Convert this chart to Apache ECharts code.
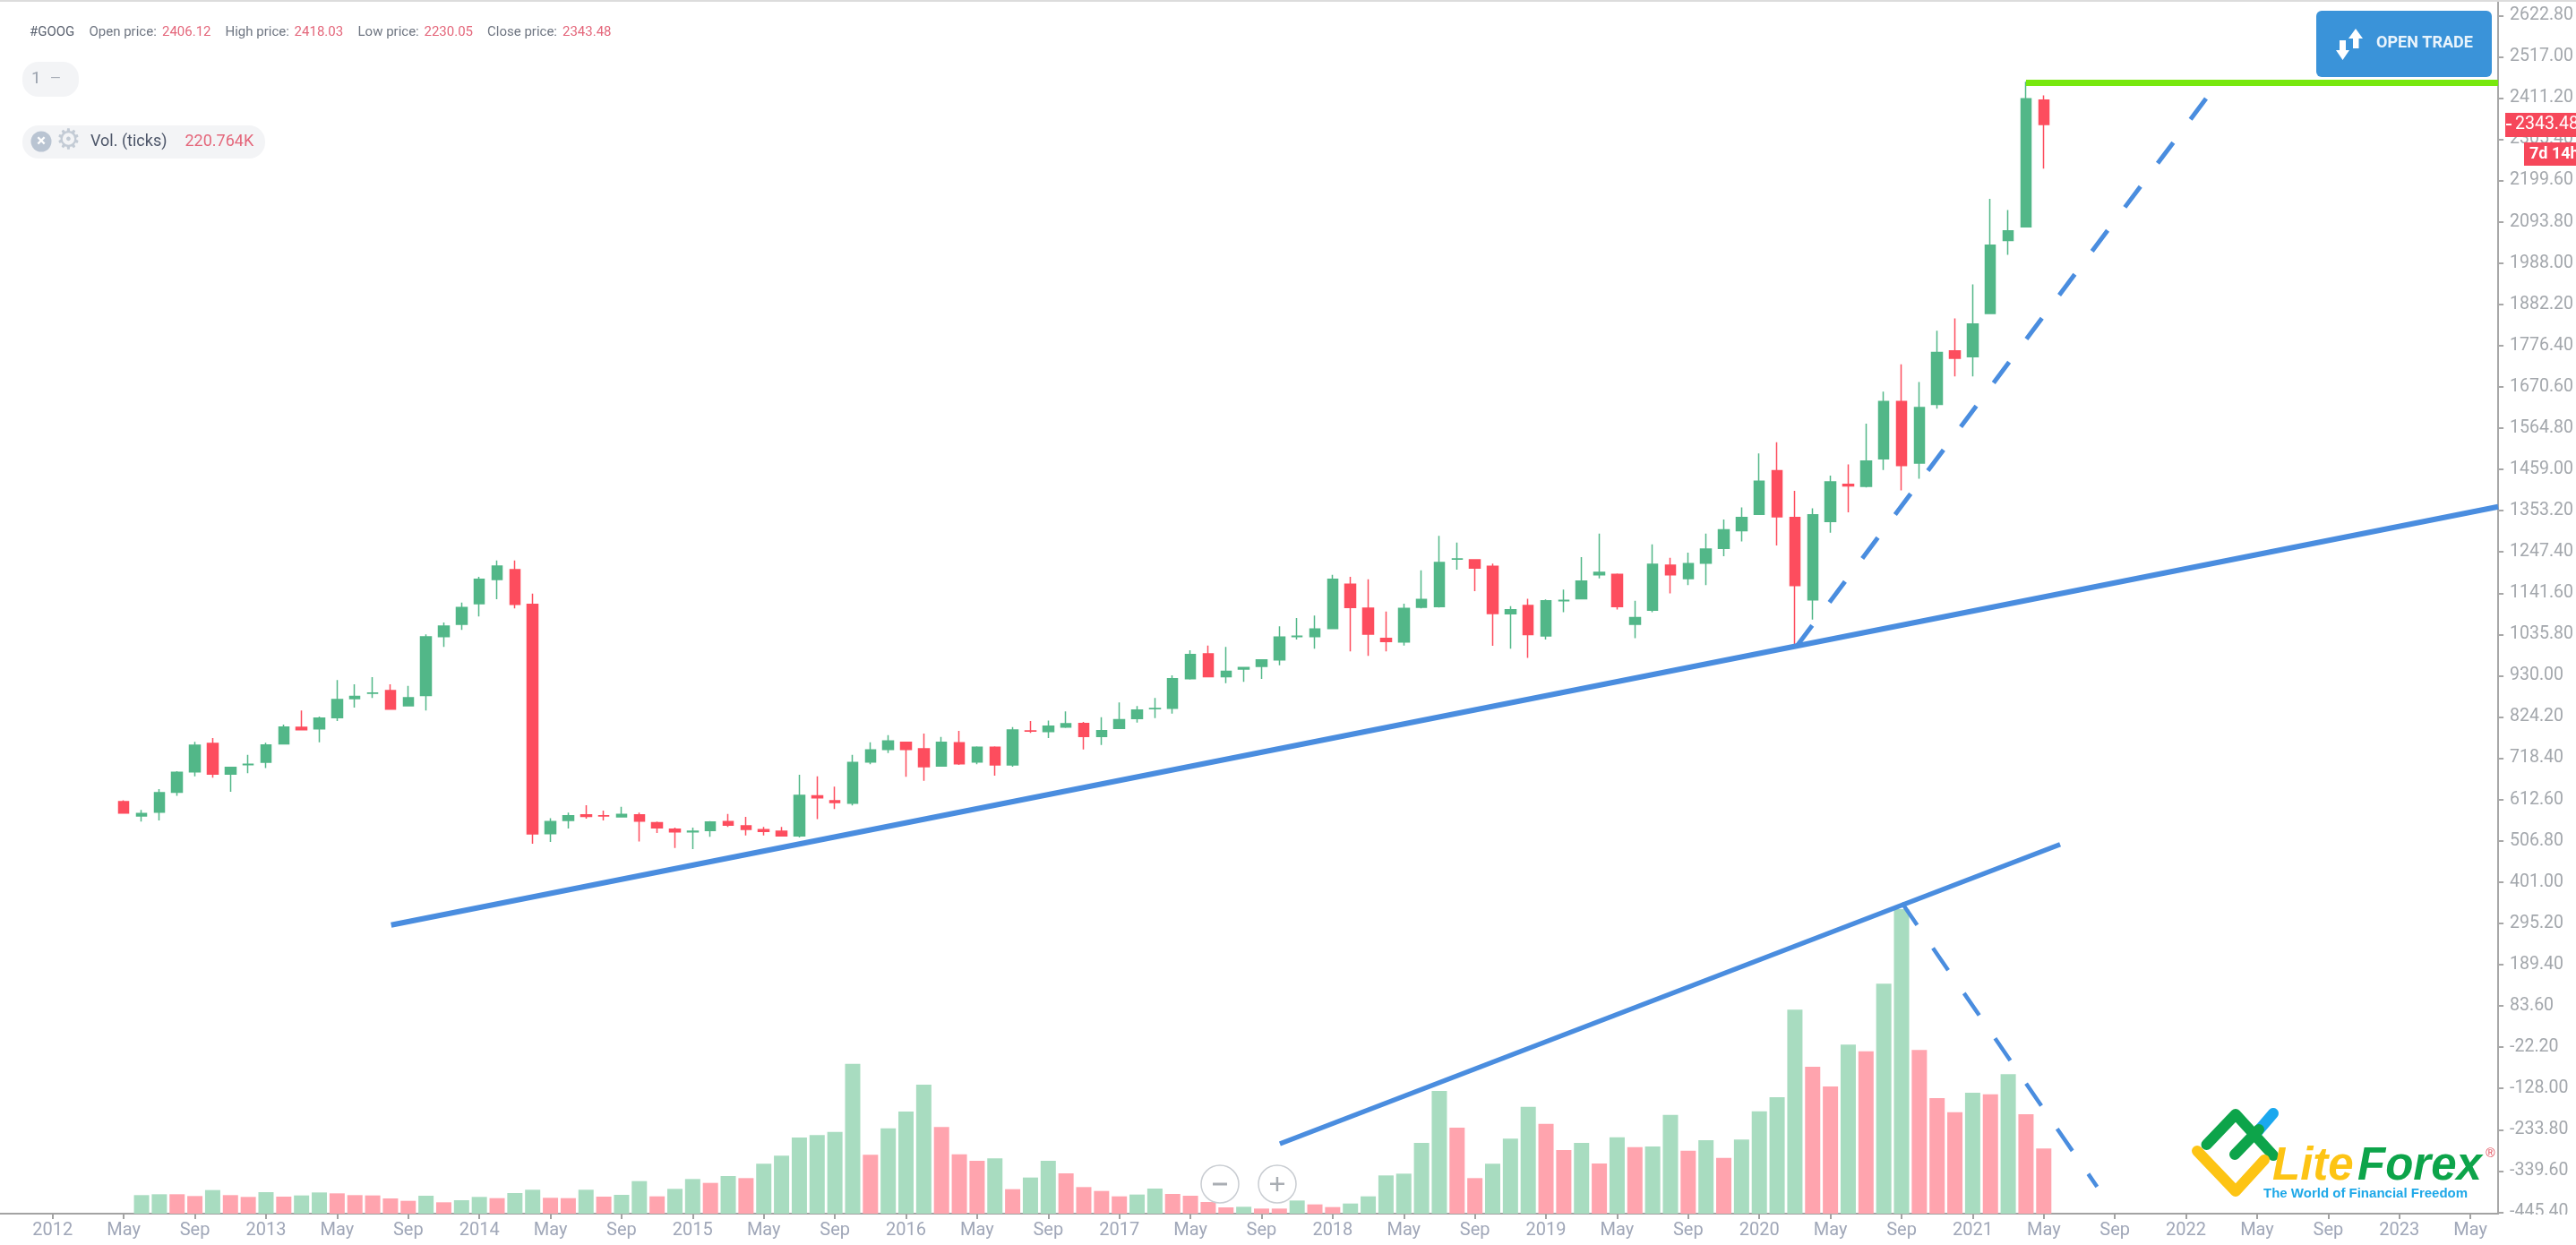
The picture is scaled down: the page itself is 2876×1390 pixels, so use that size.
<!DOCTYPE html>
<html><head><meta charset="utf-8">
<style>html,body{margin:0;padding:0;background:#fff}#c{width:2876px;height:1390px}</style>
<script src="https://cdn.jsdelivr.net/npm/echarts@6/dist/echarts.min.js"></script>
</head><body><div id="c"></div>
<script>
// Month index: 0 = May 2012
const opens = [607.3,570.5,580.4,631.7,683.8,756.5,677.7,702,708.3,755.7,797.8,794,822.3,871.3,885,892,853,879.7,1030.5,1061.9,1114.8,1176.8,1202,1113.2,525.3,559,573.6,571.3,568.2,573.6,553.6,536.8,529.9,533,556,545.2,535.3,531.4,519.2,622.5,609.5,603.4,709,741.2,759.6,742.7,698.3,758,709,746.6,701.4,788.7,787.1,798.6,807.8,774.1,794.8,820,845.3,846.8,922.6,986.2,927.9,947.1,954,970.8,1030.5,1030.5,1051.2,1164.5,1103.3,1026,1016.8,1105.6,1107.1,1228.8,1227.3,1210.4,1088.7,1110.2,1032.3,1122.5,1127.6,1189.1,1190.1,1062,1097.9,1213.7,1178.9,1218.8,1256.8,1302,1343.9,1455.7,1335.8,1124.6,1325.5,1420.8,1415.7,1486.4,1633,1475.2,1625.8,1763.2,1747.8,1858.6,2046.2,2081,2406.12];
const closes = [578.2,576.6,630.2,682.3,751.9,677.7,695.3,702.9,752.7,798.6,791.7,821.6,869,877.4,885.9,844.5,873.6,1029.8,1057.4,1104.8,1177.5,1211.2,1113.2,524.6,556,571.3,569.7,570.5,574.3,557.5,539.9,529.9,531.4,555.2,546.8,536,530.7,519.2,623.3,617.2,604.9,707.5,739.7,762.6,741.2,696.8,759.6,704.4,746.6,701.4,791,787.9,800.9,807,774.1,789.4,817.7,842.2,846,922.6,984.6,927.9,941.7,950.9,970.8,1029,1031.3,1049.7,1177.5,1104.8,1036.7,1017.5,1102.5,1125.5,1220.4,1229.6,1205.9,1089.5,1099.4,1035.4,1122.5,1123.5,1172.7,1195.3,1107.1,1079.4,1215.8,1189.1,1217.8,1254.7,1304,1335.8,1429,1337.8,1161.4,1342.9,1427,1416.7,1480.3,1633,1469,1617.7,1759.1,1743.7,1831.9,2033.9,2070.8,2409.1,2343.48];
const lows = [576.6,556,559,622.5,672.3,668.5,632.5,680,693.7,755,790.2,759.6,814,848.4,872.9,843,851.4,840.7,1003.8,1047.4,1081.8,1126.2,1102.5,499.3,503.9,538.3,563.6,559,566.7,505.4,526.8,488.6,485.5,516.9,542.2,520.7,520.7,517.6,515.4,562.8,588.1,597.3,702.9,732,670.8,660.8,696.8,701.4,702.9,673.8,696.8,783.3,770.3,796.3,741.2,752.7,794,810.1,821.6,833,920.3,926.4,911.1,914.2,921.9,957.1,1022.9,999.2,1049.7,992.3,980.8,992.3,1007.6,1102.5,1104.8,1202,1146.9,1006.8,999.2,975.9,1023.1,1092.8,1125.6,1179.9,1100,1026.1,1092.8,1141,1162.5,1162.5,1236.3,1274.2,1342.9,1263.9,1010.8,1074.3,1296.8,1349,1412.6,1457.7,1405.4,1435.2,1614.6,1697.6,1697.6,1857.5,2009.3,2079,2230.05];
const highs = [611,585.8,639.4,685.3,760.3,770.3,696.8,727.4,758,804.7,840.7,825.4,918.8,908,926.4,908,904.3,1035.9,1066.5,1117.8,1183.7,1225.8,1225.8,1140.8,565.1,578.9,598,584.3,594.2,578.9,556,540.6,540.6,557.5,575.8,568.2,542.2,542.2,676.1,672.3,645.5,727.4,759.6,777.9,759.6,781.8,773.4,788.7,748.9,748.9,798.6,813.9,815.4,838.4,811.6,823.9,861.4,852.2,872.9,931,995.3,1007.6,1003.8,952.5,972.4,1056.6,1078,1084.1,1189,1183.7,1177.5,1094.9,1114.8,1200.5,1289,1271.7,1227.3,1217.3,1108.6,1127.6,1125.6,1151.2,1234.2,1294.7,1192.2,1122.5,1267,1232.2,1245.5,1294.7,1330.6,1361.4,1499.8,1528.5,1404.4,1359.3,1443.4,1472.1,1576.6,1658.7,1728.4,1683.3,1814.5,1846.3,1933.4,2152.8,2124.1,2453.2,2418.03];
// Volume in thousands of ticks, month index 1 (Jun 2012) .. 108 (May 2021)
const volumes = [62.8,65.8,65.8,59.7,80,62.8,56.7,72.9,57.7,61.8,71.9,68.8,62.8,61.8,51.6,43.5,60.7,38.5,45.6,56.7,52.6,69.8,81,53.7,52.6,81,57.7,63.8,110.3,58.7,84,117.4,104.3,127.5,120.5,169,196.4,258.1,266.2,277.4,508.2,199.4,289.5,346.2,437.3,293.6,201.4,179.2,187.3,83,122.5,179.2,136.7,90.1,76.9,58.7,64.8,85,66.8,60.7,39.5,21.3,23.3,17.2,17.2,44.5,31.4,22.3,34.4,58.7,129.6,135.6,239.9,416.1,291.5,120.5,169,254.1,362.4,304.7,215.6,239.9,170,259.1,225.7,227.8,335.1,213.6,249,189.3,251,347.2,394.8,691.4,498,431.2,573,550.7,779.6,1032.6,554.7,391.8,344.2,410,404.9,472.7,337.1,220.764];
const volumeSides = "GGRRGRRGRGGRRRRRGRGGRGGRRGRGGRGGRGRGGGGGGRGGGRRRGRGGRRRRGGRRRRGRRGRRGGGGGGRRGGGRRGRGRGGRGRGGGGRRGRGGRRRGRGRR";
const priceTicks = [-445.4,-339.6,-233.8,-128,-22.2,83.6,189.4,295.2,401,506.8,612.6,718.4,824.2,930,1035.8,1141.6,1247.4,1353.2,1459,1564.8,1670.6,1776.4,1882.2,1988,2093.8,2199.6,2305.4,2411.2,2517,2622.8];
const monthTicks = [-4,0,4,8,12,16,20,24,28,32,36,40,44,48,52,56,60,64,68,72,76,80,84,88,92,96,100,104,108,112,116,120,124,128,132];
const monthLabels = ["2012","May","Sep","2013","May","Sep","2014","May","Sep","2015","May","Sep","2016","May","Sep","2017","May","Sep","2018","May","Sep","2019","May","Sep","2020","May","Sep","2021","May","Sep","2022","May","Sep","2023","May"];
const supportLine = [[15.04,291],[133.56,1363.4]];
const volumeTrend = [[65.03,-270],[108.92,497.7]];
const growthDash = [[94.1,1005.6],[117.16,2411.5]];
const volumeDash = [[100.02,347.8],[111,-380.2]];
const resistance = [[107,2450.3],[133.56,2450.3]];

const GREEN='#52b788',RED='#fd4d5e',BLUE='#4a8ddf';
const candles = opens.map((o,i)=>[i,o,closes[i],lows[i],highs[i]]);
const bars = volumes.map((v,i)=>({value:[i+1,v],itemStyle:{color:volumeSides[i]==='G'?'#a8dcc0':'#ffa4ae'}}));
const lineS=(data,color,width,type)=>({type:'line',data,symbol:'none',silent:true,z:5,lineStyle:{color,width,type:type||'solid',cap:'butt'},clip:true});

function T(x,y,s,font,fill,align){return {type:'text',z:100,silent:true,style:{x,y,text:s,font,fill,align:align||'left',verticalAlign:'middle'}};}
function R(x,y,w,h,fill,r){return {type:'rect',z:99,silent:true,shape:{x,y,width:w,height:h,r:r||0},style:{fill}};}
function P(points,stroke,w){return {type:'polyline',z:100,silent:true,shape:{points},style:{stroke,lineWidth:w,fill:null,lineCap:'round',lineJoin:'round'}};}
function C(cx,cy,r,fill,stroke,lw){return {type:'circle',z:99,silent:true,shape:{cx,cy,r},style:{fill,stroke:stroke||null,lineWidth:lw||0}};}
const F14='15px Roboto',G1='#5b6270',L1='#6f7682',V1='#e4677b';
const overlay=[
 R(0,0,2876,2,'#dcdcdc'),
 R(2798,1356,78,34,'#ffffff'),
 T(33,36,'#GOOG',F14,G1),T(99.5,36,'Open price:',F14,L1),T(181,36,'2406.12',F14,V1),
 T(251.5,36,'High price:',F14,L1),T(328.6,36,'2418.03',F14,V1),
 T(399.5,36,'Low price:',F14,L1),T(473.5,36,'2230.05',F14,V1),
 T(544,36,'Close price:',F14,L1),T(628,36,'2343.48',F14,V1),
 R(25,69,63,39,'#f3f4f6',18),T(35,88,'1','19px Roboto','#98a0ac'),T(56,88,'—','15px Roboto','#a8aeb8'),
 R(25,140,271,37,'#f3f4f6',18),C(46,158,11.5,'#b9c4d2'),T(46,158,'×','bold 19px Roboto','#ffffff','center'),
 T(76.5,158,'⚙','31px "DejaVu Sans"','#c3cbd5','center'),
 T(101,158,'Vol. (ticks)','18px Roboto','#4c5568'),T(206.5,158,'220.764K','18px Roboto','#e4677b'),
 // open-trade button
 R(2586,12,196,74,'#3a93d9',6),
 {type:'polygon',z:100,silent:true,shape:{points:[[2630,32],[2638,43],[2633.5,43],[2633.5,54],[2627,54],[2627,43],[2622,43]]},style:{fill:'#fff'}},
 {type:'polygon',z:100,silent:true,shape:{points:[[2615.5,67],[2608,56],[2612,56],[2612,45],[2619,45],[2619,56],[2623,56]]},style:{fill:'#fff'}},
 T(2653,48,'OPEN TRADE','bold 18px Roboto','#e9f4fc'),
 // price tags
 R(2797,126,79,27,'#f6475a'),R(2798,138,6,2,'#ffffff'),T(2808,139,'2343.48','19.5px Roboto','#ffffff'),
 R(2818,159,58,26,'#f6475a'),T(2824,172,'7d 14h','bold 18px Roboto','#ffffff'),
 // zoom buttons
 C(1362,1322,21,'rgba(255,255,255,0.75)','#c9cdd2',1.5),R(1354,1320.5,16,3,'#a9adb3'),
 C(1426,1322,21,'rgba(255,255,255,0.75)','#c9cdd2',1.5),R(1418,1320.5,16,2.5,'#a9adb3'),R(1424.7,1314,2.5,16,'#a9adb3'),
 // logo
 P([[2520,1264],[2538,1243]],'#1ba8ee',12),
 P([[2463.5,1278],[2496,1244],[2538,1290]],'#0da44a',12),
 P([[2495,1289],[2522,1261]],'#0da44a',12),
 P([[2453,1285],[2496,1330],[2528,1295]],'#fdc414',12),
 T(2537,1303,'Lite','italic bold 51px "Liberation Sans"','#fdc414'),
 T(2632,1303,'Forex','italic bold 51px "Liberation Sans"','#0da44a'),
 T(2527,1332.7,'The World of Financial Freedom','bold 15px "Liberation Sans"','#1ea8e8'),
 T(2780.5,1287.7,'®','14px "Liberation Sans"','#e0424f','center')
];

const chart=echarts.init(document.getElementById('c'),null,{width:2876,height:1390});
chart.setOption({
 animation:false,backgroundColor:'#fff',
 grid:{left:0,top:0,width:2797,height:1355,containLabel:false},
 xAxis:{type:'value',min:-6.963,max:133.56,splitLine:{show:false},
  axisLine:{show:true,onZero:false,lineStyle:{color:'#a3a3a3',width:2}},
  axisTick:{show:true,length:6,customValues:monthTicks,lineStyle:{color:'#a3a3a3',width:2}},
  axisLabel:{customValues:monthTicks,margin:9,color:'#a0a7b8',fontFamily:'Roboto',fontSize:20,
   hideOverlap:false,formatter:v=>monthLabels[monthTicks.indexOf(v)]||''}},
 yAxis:[
  {type:'value',position:'right',min:-449,max:2662.5,splitLine:{show:false},
   axisLine:{show:true,onZero:false,lineStyle:{color:'#a8a8a8',width:2}},
   axisTick:{show:true,length:6,customValues:priceTicks,lineStyle:{color:'#a8a8a8',width:2}},
   axisLabel:{customValues:priceTicks,margin:13,color:'#a3a7ac',fontFamily:'Roboto',fontSize:19.5,
    align:'left',hideOverlap:false,formatter:v=>v.toFixed(2)}},
  {type:'value',min:0,max:4115,show:false,splitLine:{show:false}}
 ],
 series:[
  {type:'bar',yAxisIndex:1,data:bars,barWidth:17,silent:true,z:1},
  {type:'candlestick',yAxisIndex:0,data:candles,barWidth:12,silent:true,z:3,
   itemStyle:{color:GREEN,color0:RED,borderColor:GREEN,borderColor0:RED,borderColorDoji:GREEN,borderWidth:1.5}},
  lineS(resistance,'#78e80e',7),
  lineS(supportLine,BLUE,6),
  lineS(volumeTrend,BLUE,5.5),
  lineS(growthDash,BLUE,5,[29,32.2]),
  lineS(volumeDash,BLUE,4.5,[30,31.2])
 ],
 graphic:{elements:overlay}
});
</script></body></html>
